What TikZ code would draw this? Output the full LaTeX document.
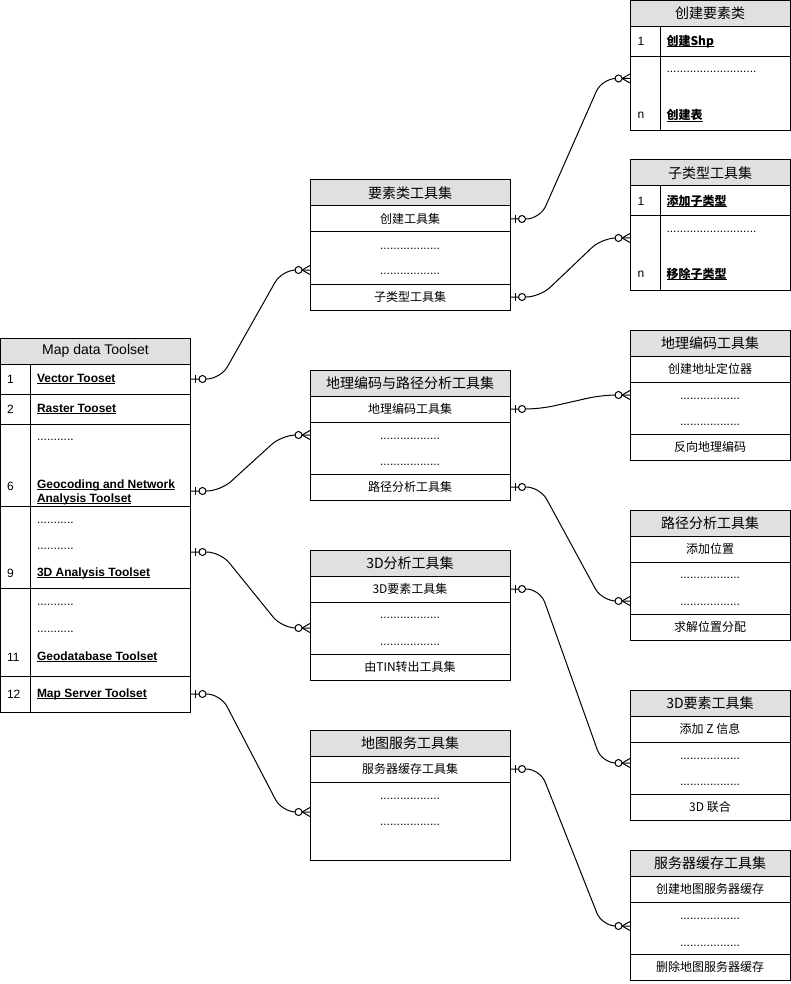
\documentclass[tikz,border=0pt]{standalone}
\usepackage{fontspec}
\setmainfont{Liberation Sans}
\newfontfamily\cjk{Noto Sans CJK SC}
\usetikzlibrary{positioning}
\definecolor{hdrgray}{HTML}{E0E0E0}
\newcommand\keyline[1]{\setbox0\hbox{#1}\rlap{\rule[-1.6pt]{\wd0}{0.8pt}}\box0}

\tikzset{
  hdr/.style={draw, fill=hdrgray, minimum height=26pt, inner sep=0pt, outer sep=0pt, font=\cjk\fontsize{14}{16}\selectfont},
  cell/.style={draw, minimum height=#1, inner sep=0pt, outer sep=0pt, font=\cjk\fontsize{12}{14}\selectfont},
  cell/.default=26pt,
  lbl/.style={inner sep=0pt, anchor=west, font=\fontsize{12}{14}\selectfont},
  key/.style={lbl, font=\bfseries\fontsize{12}{14}\selectfont},
  ckey/.style={lbl, font=\cjk\bfseries\fontsize{12}{14}\selectfont},
  dots/.style={inner sep=0pt, font=\fontsize{12}{14}\selectfont},
  rel/.style={rounded corners=14pt},
  zeroone/.pic={\draw (5,-4) -- (5,4); \draw[fill=white] (12,0) circle (3.5pt);},
  zeromany/.pic={\draw (-8,0) -- (0,4.5) (-8,0) -- (0,-4.5); \draw[fill=white] (-11.5,0) circle (3.5pt);},
}

\begin{document}
\begin{tikzpicture}[x=1pt, y=1pt, line width=1pt]
    \useasboundingbox (0,0) rectangle (791,-984);

    % Map data Toolset
    \node[hdr, minimum width=190pt, anchor=north west, font=\fontsize{14}{16}\selectfont] (mdt) at (0.5,-338) {Map data Toolset};
    \node[cell=30pt, minimum width=190pt, below=0pt of mdt] (mdt-1) {};
    \node[cell=30pt, minimum width=190pt, below=0pt of mdt-1] (mdt-2) {};
    \node[cell=82pt, minimum width=190pt, below=0pt of mdt-2] (mdt-3) {};
    \node[cell=82pt, minimum width=190pt, below=0pt of mdt-3] (mdt-4) {};
    \node[cell=88pt, minimum width=190pt, below=0pt of mdt-4] (mdt-5) {};
    \node[cell=36pt, minimum width=190pt, below=0pt of mdt-5] (mdt-6) {};
    \draw ([xshift=30pt]mdt-1.north west) -- ([xshift=30pt]mdt-6.south west);
    \node[lbl] at ([xshift=6pt]mdt-1.west) {1};
    \node[key] at ([xshift=36pt]mdt-1.west) {\keyline{Vector Tooset}};
    \node[lbl] at ([xshift=6pt]mdt-2.west) {2};
    \node[key] at ([xshift=36pt]mdt-2.west) {\keyline{Raster Tooset}};
    \node[dots, anchor=west] at ([xshift=36pt,yshift=-16pt]mdt-3.north west) {...........};
    \node[lbl] at ([xshift=6pt,yshift=20pt]mdt-3.south west) {6};
    \node[key, align=left] at ([xshift=36pt,yshift=14pt]mdt-3.south west) {\keyline{Geocoding and Network}\\\keyline{Analysis Toolset}};
    \node[dots, anchor=west] at ([xshift=36pt,yshift=-17pt]mdt-4.north west) {...........};
    \node[dots, anchor=west] at ([xshift=36pt,yshift=-43pt]mdt-4.north west) {...........};
    \node[lbl] at ([xshift=6pt,yshift=15pt]mdt-4.south west) {9};
    \node[key] at ([xshift=36pt,yshift=15pt]mdt-4.south west) {\keyline{3D Analysis Toolset}};
    \node[dots, anchor=west] at ([xshift=36pt,yshift=-17pt]mdt-5.north west) {...........};
    \node[dots, anchor=west] at ([xshift=36pt,yshift=-44pt]mdt-5.north west) {...........};
    \node[lbl] at ([xshift=6pt,yshift=19pt]mdt-5.south west) {11};
    \node[key] at ([xshift=36pt,yshift=19pt]mdt-5.south west) {\keyline{Geodatabase Toolset}};
    \node[lbl] at ([xshift=6pt]mdt-6.west) {12};
    \node[key] at ([xshift=36pt]mdt-6.west) {\keyline{Map Server Toolset}};

    % 要素类工具集
    \node[hdr, minimum width=200pt, anchor=north west] (fc) at (310,-180) {要素类工具集};
    \node[cell, minimum width=200pt, below=0pt of fc] (fc-1) {创建工具集};
    \node[cell=52pt, minimum width=200pt, below=0pt of fc-1] (fc-2) {};
    \node[cell, minimum width=200pt, below=0pt of fc-2] (fc-3) {子类型工具集};
    \node[dots] at ([yshift=-17pt]fc-2.north) {..................};
    \node[dots] at ([yshift=-42pt]fc-2.north) {..................};

    % 地理编码与路径分析工具集
    \node[hdr, minimum width=200pt, anchor=north west] (gn) at (310,-370) {地理编码与路径分析工具集};
    \node[cell, minimum width=200pt, below=0pt of gn] (gn-1) {地理编码工具集};
    \node[cell=52pt, minimum width=200pt, below=0pt of gn-1] (gn-2) {};
    \node[cell, minimum width=200pt, below=0pt of gn-2] (gn-3) {路径分析工具集};
    \node[dots] at ([yshift=-17pt]gn-2.north) {..................};
    \node[dots] at ([yshift=-43pt]gn-2.north) {..................};

    % 3D分析工具集
    \node[hdr, minimum width=200pt, anchor=north west] (tda) at (310,-550) {3D分析工具集};
    \node[cell, minimum width=200pt, below=0pt of tda] (tda-1) {3D要素工具集};
    \node[cell=52pt, minimum width=200pt, below=0pt of tda-1] (tda-2) {};
    \node[cell, minimum width=200pt, below=0pt of tda-2] (tda-3) {由TIN转出工具集};
    \node[dots] at ([yshift=-16pt]tda-2.north) {..................};
    \node[dots] at ([yshift=-43pt]tda-2.north) {..................};

    % 地图服务工具集
    \node[hdr, minimum width=200pt, anchor=north west] (ms) at (310,-730) {地图服务工具集};
    \node[cell, minimum width=200pt, below=0pt of ms] (ms-1) {服务器缓存工具集};
    \node[cell=78pt, minimum width=200pt, below=0pt of ms-1] (ms-2) {};
    \node[dots] at ([yshift=-17pt]ms-2.north) {..................};
    \node[dots] at ([yshift=-43pt]ms-2.north) {..................};

    % 创建要素类
    \node[hdr, minimum width=160pt, anchor=north west] (cfc) at (630,-0.5) {创建要素类};
    \node[cell=30pt, minimum width=160pt, below=0pt of cfc] (cfc-1) {};
    \node[cell=74pt, minimum width=160pt, below=0pt of cfc-1] (cfc-2) {};
    \draw ([xshift=30pt]cfc-1.north west) -- ([xshift=30pt]cfc-2.south west);
    \node[lbl] at ([xshift=7pt]cfc-1.west) {1};
    \node[ckey] at ([xshift=36pt]cfc-1.west) {\keyline{创建Shp}};
    \node[dots, anchor=west] at ([xshift=36pt,yshift=-15pt]cfc-2.north west) {...........................};
    \node[lbl] at ([xshift=7pt,yshift=15pt]cfc-2.south west) {n};
    \node[ckey] at ([xshift=36pt,yshift=15pt]cfc-2.south west) {\keyline{创建表}};

    % 子类型工具集
    \node[hdr, minimum width=160pt, anchor=north west] (sub) at (630,-160) {子类型工具集};
    \node[cell=30pt, minimum width=160pt, below=0pt of sub] (sub-1) {};
    \node[cell=74pt, minimum width=160pt, below=0pt of sub-1] (sub-2) {};
    \draw ([xshift=30pt]sub-1.north west) -- ([xshift=30pt]sub-2.south west);
    \node[lbl] at ([xshift=7pt]sub-1.west) {1};
    \node[ckey] at ([xshift=36pt]sub-1.west) {\keyline{添加子类型}};
    \node[dots, anchor=west] at ([xshift=36pt,yshift=-16pt]sub-2.north west) {...........................};
    \node[lbl] at ([xshift=7pt,yshift=16pt]sub-2.south west) {n};
    \node[ckey] at ([xshift=36pt,yshift=16pt]sub-2.south west) {\keyline{移除子类型}};

    % 地理编码工具集
    \node[hdr, minimum width=160pt, anchor=north west] (geo) at (630,-330) {地理编码工具集};
    \node[cell, minimum width=160pt, below=0pt of geo] (geo-1) {创建地址定位器};
    \node[cell=52pt, minimum width=160pt, below=0pt of geo-1] (geo-2) {};
    \node[cell, minimum width=160pt, below=0pt of geo-2] (geo-3) {反向地理编码};
    \node[dots] at ([yshift=-17pt]geo-2.north) {..................};
    \node[dots] at ([yshift=-43pt]geo-2.north) {..................};

    % 路径分析工具集
    \node[hdr, minimum width=160pt, anchor=north west] (na) at (630,-510) {路径分析工具集};
    \node[cell, minimum width=160pt, below=0pt of na] (na-1) {添加位置};
    \node[cell=52pt, minimum width=160pt, below=0pt of na-1] (na-2) {};
    \node[cell, minimum width=160pt, below=0pt of na-2] (na-3) {求解位置分配};
    \node[dots] at ([yshift=-16pt]na-2.north) {..................};
    \node[dots] at ([yshift=-43pt]na-2.north) {..................};

    % 3D要素工具集
    \node[hdr, minimum width=160pt, anchor=north west] (tdf) at (630,-690) {3D要素工具集};
    \node[cell, minimum width=160pt, below=0pt of tdf] (tdf-1) {添加 Z 信息};
    \node[cell=52pt, minimum width=160pt, below=0pt of tdf-1] (tdf-2) {};
    \node[cell, minimum width=160pt, below=0pt of tdf-2] (tdf-3) {3D 联合};
    \node[dots] at ([yshift=-17pt]tdf-2.north) {..................};
    \node[dots] at ([yshift=-43pt]tdf-2.north) {..................};

    % 服务器缓存工具集
    \node[hdr, minimum width=160pt, anchor=north west] (cache) at (630,-850) {服务器缓存工具集};
    \node[cell, minimum width=160pt, below=0pt of cache] (cache-1) {创建地图服务器缓存};
    \node[cell=52pt, minimum width=160pt, below=0pt of cache-1] (cache-2) {};
    \node[cell, minimum width=160pt, below=0pt of cache-2] (cache-3) {删除地图服务器缓存};
    \node[dots] at ([yshift=-17pt]cache-2.north) {..................};
    \node[dots] at ([yshift=-44pt]cache-2.north) {..................};

    % connector ends
    \coordinate (mdt-geo) at ([yshift=15pt]mdt-3.south east);
    \coordinate (mdt-3d) at ([yshift=-46pt]mdt-4.north east);
    \coordinate (fc-in) at ([yshift=-38pt]fc-2.north west);
    \coordinate (gn-in) at ([yshift=-13pt]gn-2.north west);
    \coordinate (tda-in) at ([yshift=-26pt]tda-2.north west);
    \coordinate (ms-in) at ([yshift=-30pt]ms-2.north west);
    \coordinate (cfc-in) at ([yshift=-22pt]cfc-2.north west);
    \coordinate (sub-in) at ([yshift=-22pt]sub-2.north west);
    \coordinate (geo-in) at ([yshift=-13pt]geo-2.north west);
    \coordinate (na-in) at ([yshift=-39pt]na-2.north west);
    \coordinate (tdf-in) at ([yshift=-21pt]tdf-2.north west);
    \coordinate (cache-in) at ([yshift=-24pt]cache-2.north west);

    % connectors
    \draw[rel] (mdt-1.east) -- ++(30,0) -- ([xshift=-28pt]fc-in) -- (fc-in);
    \draw[rel] (mdt-geo) -- ++(30,0) -- ([xshift=-28pt]gn-in) -- (gn-in);
    \draw[rel] (mdt-3d) -- ++(30,0) -- ([xshift=-28pt]tda-in) -- (tda-in);
    \draw[rel] (mdt-6.east) -- ++(30,0) -- ([xshift=-28pt]ms-in) -- (ms-in);
    \draw[rel] (fc-1.east) -- ++(30,0) -- ([xshift=-28pt]cfc-in) -- (cfc-in);
    \draw[rel] (fc-3.east) -- ++(30,0) -- ([xshift=-28pt]sub-in) -- (sub-in);
    \draw[rel] (gn-1.east) -- ++(30,0) -- ([xshift=-28pt]geo-in) -- (geo-in);
    \draw[rel] (gn-3.east) -- ++(30,0) -- ([xshift=-28pt]na-in) -- (na-in);
    \draw[rel] (tda-1.east) -- ++(30,0) -- ([xshift=-28pt]tdf-in) -- (tdf-in);
    \draw[rel] (ms-1.east) -- ++(30,0) -- ([xshift=-28pt]cache-in) -- (cache-in);

    \foreach \s in {mdt-1.east, mdt-geo, mdt-3d, mdt-6.east, fc-1.east, fc-3.east, gn-1.east, gn-3.east, tda-1.east, ms-1.east}
        \pic at (\s) {zeroone};
    \foreach \t in {fc-in, gn-in, tda-in, ms-in, cfc-in, sub-in, geo-in, na-in, tdf-in, cache-in}
        \pic at (\t) {zeromany};
\end{tikzpicture}
\end{document}
